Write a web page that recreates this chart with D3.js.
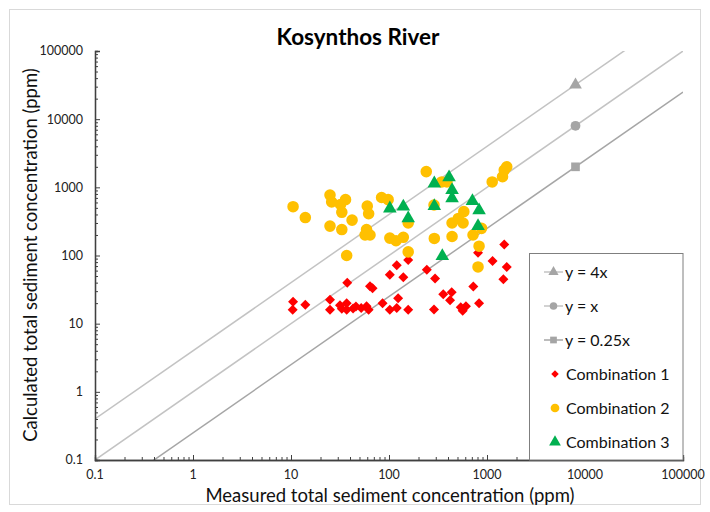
<!DOCTYPE html>
<html>
<head>
<meta charset="utf-8">
<script src="https://cdn.jsdelivr.net/npm/d3@7"></script>
<style>
  html, body { margin: 0; padding: 0; background: #fff; }
  svg { display: block; font-family: Lato, "Open Sans", sans-serif; }
</style>
</head>
<body>
<svg id="chart" width="710" height="512"></svg>
<script>
// Measured vs calculated total sediment concentration (ppm), Kosynthos River
const comb1 = [
  [1500, 145], [810, 110], [1140, 83], [1590, 68], [1470, 45], [725, 35],
  [243, 62], [157, 86], [120, 72], [102, 52], [140, 48], [37.5, 40],
  [64, 35.5], [68, 33], [358, 27], [436, 29], [420, 22], [830, 20],
  [10.5, 21], [14, 19], [10.4, 16], [25, 22.5], [25, 16], [31.6, 18.7],
  [37, 20], [37, 16], [43, 16.7], [46, 17.8], [59, 18], [62, 16], [86, 20],
  [102, 16], [120, 17], [124, 23.5], [157, 16], [288, 16.2], [540, 17.4],
  [610, 18], [565, 15.5], [295, 46], [33, 16.5], [52, 17]
];
const comb2 = [
  [10.5, 520], [14, 360], [25, 770], [26, 610], [25, 270], [33, 430],
  [33, 240], [36, 660], [32, 560], [42, 330], [37, 100], [60, 530],
  [62, 410], [59, 240], [57, 200], [64, 200], [84, 710], [98, 660],
  [102, 180], [118, 165], [140, 185], [157, 113], [157, 300], [240, 1700],
  [345, 1200], [390, 1200], [288, 550], [290, 178], [440, 190], [440, 300],
  [510, 350], [580, 440], [570, 300], [720, 200], [880, 250], [830, 137],
  [810, 68], [1130, 1200], [1440, 1430], [1500, 1790], [1590, 2000]
];
const comb3 = [
  [102, 490], [140, 520], [157, 350], [290, 1140], [410, 1400], [440, 910],
  [440, 690], [290, 530], [710, 630], [830, 460], [810, 270], [350, 98]
];
const ratioLines = [
  { name: "y = 4x", k: 4, marker: "triangle", color: "#c3c3c3" },
  { name: "y = x", k: 1, marker: "circle", color: "#c3c3c3" },
  { name: "y = 0.25x", k: 0.25, marker: "square", color: "#a6a6a6" }
];
const ratioMarkerX = 8000;
const tickValues = [0.1, 1, 10, 100, 1000, 10000, 100000];
const tickLabels = ["0.1", "1", "10", "100", "1000", "10000", "100000"];
const scatterSeries = [
  { name: "Combination 1", data: comb1, shape: "diamond", color: "#ff0000" },
  { name: "Combination 2", data: comb2, shape: "circle", color: "#ffc000" },
  { name: "Combination 3", data: comb3, shape: "triangle", color: "#00b050" }
];

const svg = d3.select("#chart");
const plot = { left: 95, right: 683, top: 51, bottom: 460 };

// outer chart frame
svg.append("rect")
  .attr("x", 9.5).attr("y", 9.5).attr("width", 691).attr("height", 495)
  .attr("fill", "#fff").attr("stroke", "#d9d9d9").attr("stroke-width", 1);

const x = d3.scaleLog().domain([0.1, 100000]).range([plot.left, plot.right]);
const y = d3.scaleLog().domain([0.1, 100000]).range([plot.bottom, plot.top]);

// diamonds are squares turned by 45 degrees
const symbolOf = {
  diamond: d3.symbolSquare,
  circle: d3.symbolCircle,
  triangle: d3.symbolTriangle,
  square: d3.symbolSquare
};
function sym(shape, size) {
  return d3.symbol().type(symbolOf[shape]).size(size)();
}
function place(shape, cx, cy) {
  return `translate(${cx},${cy})` + (shape === "diamond" ? " rotate(45)" : "");
}

svg.append("clipPath").attr("id", "plotclip")
  .append("rect")
  .attr("x", plot.left).attr("y", plot.top)
  .attr("width", plot.right - plot.left).attr("height", plot.bottom - plot.top);

// ratio reference lines
const refG = svg.append("g").attr("clip-path", "url(#plotclip)");
const line = d3.line().x(d => x(d[0])).y(d => y(d[1]));
ratioLines.forEach(r => {
  const pts = [0.01, 100000].map(v => [v, v * r.k]);
  refG.append("path").attr("d", line(pts))
    .attr("fill", "none").attr("stroke", r.color).attr("stroke-width", 1.5);
});
ratioLines.forEach(r => {
  svg.append("path")
    .attr("d", sym(r.marker, r.marker === "triangle" ? 70 : 75))
    .attr("transform", place(r.marker, x(ratioMarkerX), y(ratioMarkerX * r.k)))
    .attr("fill", "#a5a5a5");
});

// scatter series
const sizes = { diamond: 50, circle: 105, triangle: 80 };
scatterSeries.forEach(s => {
  svg.append("g").selectAll("path").data(s.data).join("path")
    .attr("d", sym(s.shape, sizes[s.shape]))
    .attr("transform", d => place(s.shape, x(d[0]), y(d[1])))
    .attr("fill", s.color);
});

// axes with inside ticks
const axisColor = "#404040";
const minorTicks = [];
for (let e = -1; e < 5; e++) {
  for (let m = 2; m <= 9; m++) { minorTicks.push(m * Math.pow(10, e)); }
}
const xAxis = svg.append("g").attr("transform", `translate(0,${plot.bottom})`);
xAxis.call(d3.axisBottom(x).tickValues(minorTicks).tickSize(-3).tickFormat(""));
xAxis.call(g => g.append("g").call(d3.axisBottom(x).tickValues(tickValues).tickSize(-5).tickFormat("")));
xAxis.selectAll("line").attr("stroke", axisColor);
xAxis.selectAll(".domain").attr("stroke", axisColor).attr("stroke-width", 1.3);

const yAxis = svg.append("g").attr("transform", `translate(${plot.left},0)`);
yAxis.call(d3.axisLeft(y).tickValues(minorTicks).tickSize(-3).tickFormat(""));
yAxis.call(g => g.append("g").call(d3.axisLeft(y).tickValues(tickValues).tickSize(-5).tickFormat("")));
yAxis.selectAll("line").attr("stroke", axisColor);
yAxis.selectAll(".domain").attr("stroke", axisColor).attr("stroke-width", 1.3);

// tick labels
svg.append("g").selectAll("text").data(tickValues).join("text")
  .attr("x", d => x(d)).attr("y", plot.bottom + 19)
  .attr("text-anchor", "middle").attr("font-size", 12.5).attr("fill", "#222")
  .text((d, i) => tickLabels[i]);
svg.append("g").selectAll("text").data(tickValues).join("text")
  .attr("x", 83).attr("y", d => y(d)).attr("dy", "0.35em")
  .attr("text-anchor", "end").attr("font-size", 12.5).attr("fill", "#222")
  .text((d, i) => tickLabels[i]);

// titles
svg.append("text").attr("x", 358).attr("y", 45)
  .attr("text-anchor", "middle").attr("font-size", 22.5).attr("font-weight", "bold")
  .attr("fill", "#000").text("Kosynthos River");
svg.append("text").attr("x", 390).attr("y", 502)
  .attr("text-anchor", "middle").attr("font-size", 18.5).attr("fill", "#111")
  .text("Measured total sediment concentration (ppm)");
svg.append("text")
  .attr("transform", "translate(37,255) rotate(-90)")
  .attr("text-anchor", "middle").attr("font-size", 18.5).attr("fill", "#111")
  .text("Calculated total sediment concentration (ppm)");

// legend
const lg = svg.append("g");
lg.append("rect").attr("x", 529.5).attr("y", 253.5)
  .attr("width", plot.right - 529.5).attr("height", plot.bottom - 253.5)
  .attr("fill", "#fff").attr("stroke", "#7f7f7f").attr("stroke-width", 1);
const rowY = i => 272 + i * 34;
ratioLines.forEach((r, i) => {
  lg.append("line").attr("x1", 544).attr("x2", 563).attr("y1", rowY(i)).attr("y2", rowY(i))
    .attr("stroke", r.color).attr("stroke-width", 1.5);
  lg.append("path").attr("d", sym(r.marker, 45))
    .attr("transform", `translate(553.5,${rowY(i)})`).attr("fill", "#a5a5a5");
  lg.append("text").attr("x", 565).attr("y", rowY(i)).attr("dy", "0.35em")
    .attr("font-size", 16).attr("fill", "#111").text(r.name);
});
scatterSeries.forEach((s, j) => {
  const i = j + 3;
  lg.append("path").attr("d", sym(s.shape, s.shape === "diamond" ? 28 : 60))
    .attr("transform", place(s.shape, 555, rowY(i))).attr("fill", s.color);
  lg.append("text").attr("x", 566).attr("y", rowY(i)).attr("dy", "0.35em")
    .attr("font-size", 16).attr("fill", "#111").text(s.name);
});
</script>
</body>
</html>
